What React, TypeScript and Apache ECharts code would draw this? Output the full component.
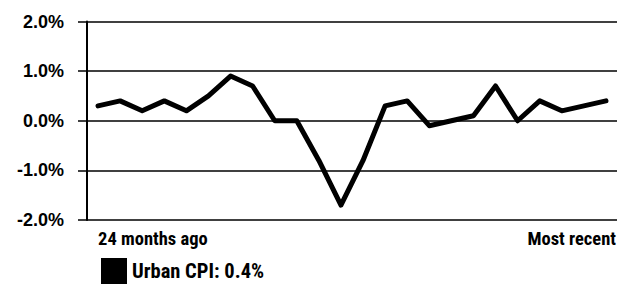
import React, { useEffect, useRef } from "react";
import * as echarts from "echarts";

const months: string[] = [
  "M-23", "M-22", "M-21", "M-20", "M-19", "M-18", "M-17", "M-16",
  "M-15", "M-14", "M-13", "M-12", "M-11", "M-10", "M-9", "M-8",
  "M-7", "M-6", "M-5", "M-4", "M-3", "M-2", "M-1", "M-0",
];
const urbanCpi: number[] = [
  0.3, 0.4, 0.2, 0.4, 0.2, 0.5, 0.9, 0.7, 0.0, 0.0, -0.8, -1.7,
  -0.8, 0.3, 0.4, -0.1, 0.0, 0.1, 0.7, 0.0, 0.4, 0.2, 0.3, 0.4,
];
const firstLabel = "24 months ago";
const lastLabel = "Most recent";
const seriesName = "Urban CPI";
const yTicks = { min: -2, max: 2, interval: 1 };

const NARROW = "'Roboto Condensed', Roboto, sans-serif";
const SANS = "'Liberation Sans', Arial, sans-serif";

export default function App() {
  const ref = useRef<HTMLDivElement>(null);
  useEffect(() => {
    document.body.style.margin = "0";
    if (!ref.current) return;
    const chart = echarts.init(ref.current, undefined, { renderer: "svg" });
    const last = urbanCpi[urbanCpi.length - 1];
    const catData = months.map((m, i) => {
      if (i === 0) return { value: m, textStyle: { align: "left" } };
      if (i === months.length - 1)
        return { value: m, textStyle: { align: "right", padding: [0, -10, 0, 0] } };
      return m;
    });
    chart.setOption({
      animation: false,
      backgroundColor: "#fff",
      grid: { left: 87, right: 10, top: 21.5, bottom: 65 },
      legend: {
        left: 101,
        top: 258,
        padding: 0,
        icon: "rect",
        itemWidth: 26,
        itemHeight: 26,
        itemGap: 6,
        data: [seriesName],
        formatter: (name: string) => `${name}: ${last.toFixed(1)}%`,
        textStyle: { color: "#000", fontSize: 20.5, fontWeight: "bold", fontFamily: NARROW },
      },
      xAxis: {
        type: "category",
        data: catData,
        boundaryGap: true,
        axisLine: { show: false },
        axisTick: { show: false },
        axisLabel: {
          interval: (i: number) => i === 0 || i === months.length - 1,
          formatter: (_v: string, i: number) => (i === 0 ? firstLabel : lastLabel),
          color: "#000",
          fontSize: 18.5,
          fontWeight: "bold",
          fontFamily: NARROW,
          margin: 9,
        },
      },
      yAxis: {
        type: "value",
        min: yTicks.min,
        max: yTicks.max,
        interval: yTicks.interval,
        axisLine: { show: true, lineStyle: { color: "#000", width: 2 } },
        axisTick: { show: true, length: 9, lineStyle: { color: "#000", width: 1.5 } },
        splitLine: { show: true, lineStyle: { color: "#000", width: 1.5 } },
        axisLabel: {
          formatter: (v: number) => `${v.toFixed(1)}%`,
          color: "#000",
          fontSize: 18,
          fontWeight: "bold",
          fontFamily: SANS,
          margin: 23,
        },
      },
      series: [
        {
          name: seriesName,
          type: "line",
          data: urbanCpi,
          showSymbol: false,
          symbol: "none",
          itemStyle: { color: "#000" },
          lineStyle: { color: "#000", width: 5, join: "round", cap: "round" },
        },
      ],
    });
    return () => chart.dispose();
  }, []);
  return <div ref={ref} style={{ width: 627, height: 285 }} />;
}
